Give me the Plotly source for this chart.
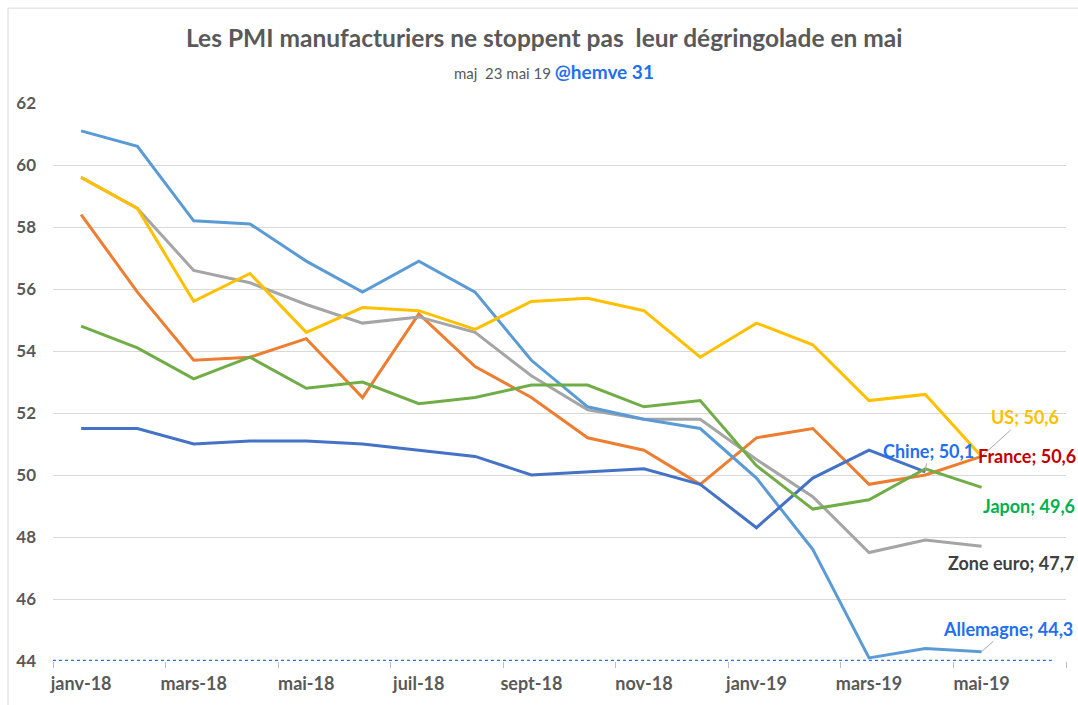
import plotly.graph_objects as go

months = ["janv-18", "févr-18", "mars-18", "avr-18", "mai-18", "juin-18", "juil-18", "août-18",
          "sept-18", "oct-18", "nov-18", "déc-18", "janv-19", "févr-19", "mars-19", "avr-19",
          "mai-19", "juin-19"]

chine = [51.5, 51.5, 51.0, 51.1, 51.1, 51.0, 50.8, 50.6, 50.0, 50.1, 50.2, 49.7, 48.3, 49.9, 50.8, 50.1]
zone_euro = [59.6, 58.6, 56.6, 56.2, 55.5, 54.9, 55.1, 54.6, 53.2, 52.1, 51.8, 51.8, 50.5, 49.3, 47.5, 47.9, 47.7]
france = [58.4, 55.9, 53.7, 53.8, 54.4, 52.5, 55.2, 53.5, 52.5, 51.2, 50.8, 49.7, 51.2, 51.5, 49.7, 50.0, 50.6]
allemagne = [61.1, 60.6, 58.2, 58.1, 56.9, 55.9, 56.9, 55.9, 53.7, 52.2, 51.8, 51.5, 49.9, 47.6, 44.1, 44.4, 44.3]
us = [59.6, 58.6, 55.6, 56.5, 54.6, 55.4, 55.3, 54.7, 55.6, 55.7, 55.3, 53.8, 54.9, 54.2, 52.4, 52.6, 50.6]
japon = [54.8, 54.1, 53.1, 53.8, 52.8, 53.0, 52.3, 52.5, 52.9, 52.9, 52.2, 52.4, 50.3, 48.9, 49.2, 50.2, 49.6]

y_ticks = [44, 46, 48, 50, 52, 54, 56, 58, 60, 62]

# drawing order: bottom to top
series = [
    ("France", france, "#ED7D31"),
    ("Zone euro", zone_euro, "#A5A5A5"),
    ("Allemagne", allemagne, "#5B9BD5"),
    ("Chine", chine, "#4472C4"),
    ("US", us, "#FFC000"),
    ("Japon", japon, "#70AD47"),
]

FONT = "Lato"
fig = go.Figure()
for name, vals, col in series:
    fig.add_trace(go.Scatter(
        x=list(range(len(vals))), y=vals, mode="lines", name=name,
        line=dict(color=col, width=3), hoverinfo="skip"))

def fmt(v):
    return f"{v:.1f}".replace(".", ",")

# labels: (name, values, text color, arrow?, dx, dy)  dy in screen pixels (down positive)
labels = [
    ("US", us, "#FFC000", True, 43, -39),
    ("France", france, "#C00000", False, 45, 0),
    ("Chine", chine, "#1F6FF0", True, 3, -21),
    ("Japon", japon, "#00B050", False, 47, 19),
    ("Zone euro", zone_euro, "#404040", False, 29, 17),
    ("Allemagne", allemagne, "#1F6FF0", True, 26, -23),
]
for name, vals, col, arrow, dx, dy in labels:
    idx = len(vals) - 1
    txt = f"<b>{name}; {fmt(vals[idx])}</b>"
    if arrow:
        fig.add_annotation(x=idx, y=vals[idx], text=txt, showarrow=True, arrowhead=0,
                           arrowwidth=1, arrowcolor="#A6A6A6", ax=dx, ay=dy,
                           font=dict(family=FONT, size=18, color=col))
    else:
        fig.add_annotation(x=idx, y=vals[idx], text=txt, showarrow=False,
                           xshift=dx, yshift=-dy,
                           font=dict(family=FONT, size=18, color=col))

# dotted axis line at the bottom
fig.add_shape(type="line", xref="paper", yref="y", x0=0, x1=0.986, y0=y_ticks[0], y1=y_ticks[0],
              line=dict(color="#2F6FEF", width=2.5, dash="dot"))

# title and subtitle
fig.add_annotation(xref="paper", yref="paper", x=0.485, y=1.0, yshift=66, showarrow=False,
                   text="<b>Les PMI manufacturiers ne stoppent pas  leur dégringolade en mai</b>",
                   font=dict(family=FONT, size=24.5, color="#595959"), xanchor="center", yanchor="middle")
fig.add_annotation(xref="paper", yref="paper", x=0.495, y=1.0, yshift=32, showarrow=False,
                   text="<span style='font-size:15px;color:#595959'>maj&nbsp;&nbsp;23 mai 19 </span>"
                        "<b><span style='font-size:19px;color:#1F6FF0'>@hemve 31</span></b>",
                   font=dict(family=FONT, size=15, color="#595959"), xanchor="center", yanchor="middle")

fig.update_layout(
    width=1078, height=705,
    margin=dict(l=53, r=12, t=103, b=44),
    paper_bgcolor="white", plot_bgcolor="white",
    showlegend=False,
    font=dict(family=FONT, color="#595959"),
    xaxis=dict(
        range=[-0.5, len(months) - 0.5],
        tickmode="array",
        tickvals=list(range(0, len(months), 2)),
        ticktext=[f"<b>{m}</b>" for m in months[::2]],
        ticks="", showgrid=False, zeroline=False, showline=False,
        tickfont=dict(family=FONT, size=18, color="#595959"),
        ticklabelstandoff=10,
        minor=dict(tickvals=[i - 0.5 for i in range(0, len(months) + 1, 2)],
                   ticks="outside", ticklen=6, tickcolor="#BFBFBF", tickwidth=1, showgrid=False),
    ),
    yaxis=dict(
        range=[y_ticks[0], y_ticks[-1]],
        tickmode="array", tickvals=y_ticks,
        ticktext=[f"<b>{v}</b>" for v in y_ticks],
        showgrid=True, gridcolor="#D9D9D9", gridwidth=1,
        zeroline=False, showline=False, ticks="",
        tickfont=dict(family=FONT, size=17, color="#595959"),
        ticklabelstandoff=16,
    ),
)
fig.add_shape(type="rect", xref="paper", yref="paper",
              x0=-0.0444, x1=1.03, y0=-0.12, y1=1.170,
              line=dict(color="#D9D9D9", width=1), layer="below")

fig.write_html("out.html", config={"displayModeBar": False},
               post_script="document.body.style.margin='0';document.body.style.overflow='hidden';")
